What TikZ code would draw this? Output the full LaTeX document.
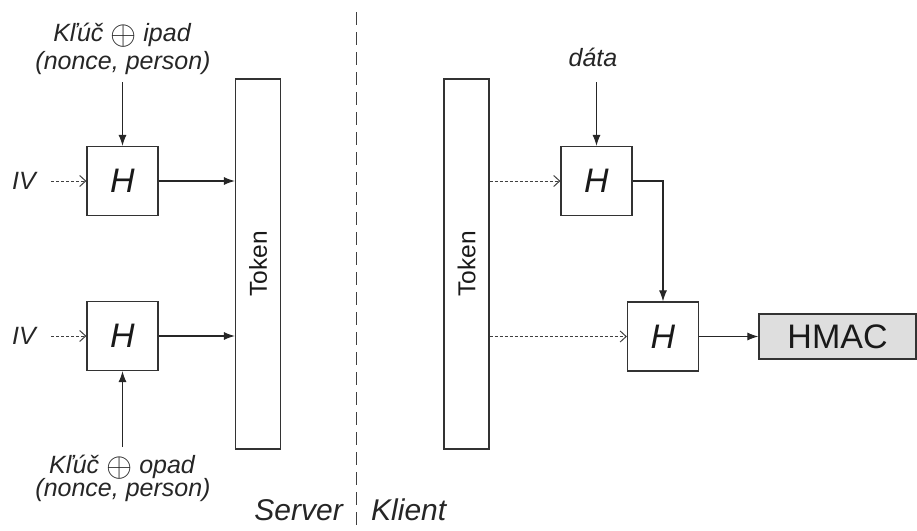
\documentclass[tikz,border=0pt]{standalone}
\usepackage{fontspec}
\setmainfont{Liberation Sans}
\usetikzlibrary{arrows.meta}
\newcommand{\xorop}{\raisebox{-0.14em}{\scalebox{1.35}{$\oplus$}}}
\begin{document}
\begin{tikzpicture}[x=1pt,y=-1pt,
  box/.style={draw=black!80, line width=1.2pt, fill=white, inner sep=0pt},
  hbox/.style={box, minimum width=71pt, minimum height=69pt,
    font=\fontsize{34}{36}\selectfont\itshape, text=black!90},
  tokbox/.style={box, minimum width=45pt, minimum height=370pt,
    font=\fontsize{24.5}{26}\selectfont, text=black!90},
  outbox/.style={box, fill=black!13, minimum width=157pt, minimum height=45pt,
    font=\fontsize{34}{36}\selectfont, text=black!90},
  lbl/.style={font=\fontsize{25}{28}\selectfont\itshape, text=black!85, inner sep=0pt},
  side/.style={font=\fontsize{30}{32}\selectfont\itshape, text=black!85, inner sep=0pt},
  flow/.style={draw=black!85, line width=1.1pt, -{Latex[length=11pt,width=8pt]}},
  feed/.style={draw=black!75, line width=1pt, dash pattern=on 3pt off 2pt,
    -{Straight Barb[length=6pt,width=11pt]}},
  divider/.style={draw=black!75, line width=1pt, dash pattern=on 13pt off 7pt},
]
\useasboundingbox (0,0) rectangle (917,530);

% server / client boundary
\coordinate (divtop) at (356,12);
\coordinate (divbot) at (356,530);
\draw[divider] (divtop) -- (divbot);
\node[side, anchor=east] (server) at (343,510) {Server};
\node[side, anchor=west] (klient) at (371,510) {Klient};

% server side
\node[tokbox] (tokL) at (258,264) {\rotatebox{90}{Token}};
\node[hbox] (h1) at (122.5,181) {H};
\node[hbox] (h2) at (122.5,336) {H};

\node[lbl] (iv1) at (24,181) {IV};
\node[lbl] (iv2) at (24,336) {IV};
\node[lbl] (k1a) at (122,35) {Kľúč \xorop{} ipad};
\node[lbl] (k1b) at (123,63) {(nonce, person)};
\node[lbl] (k2a) at (122,467) {Kľúč \xorop{} opad};
\node[lbl] (k2b) at (123,490) {(nonce, person)};

\coordinate (k1end) at (122.5,82);
\coordinate (k2end) at (122.5,447);
\draw[flow] (k1end) -- (h1.north);
\draw[flow] (k2end) -- (h2.south);
\draw[feed] ([xshift=15pt]iv1.east) -- (h1.west);
\draw[feed] ([xshift=15pt]iv2.east) -- (h2.west);
\draw[flow] (h1.east) -- (tokL.west |- h1.east);
\draw[flow] (h2.east) -- (tokL.west |- h2.east);

% client side
\node[tokbox] (tokR) at (466.5,264) {\rotatebox{90}{Token}};
\node[hbox] (h3) at (596.5,181) {H};
\node[hbox] (h4) at (663,336.5) {H};
\node[outbox] (hmac) at (837.5,336.5) {HMAC};

\node[lbl] (data) at (593,57) {dáta};
\coordinate (dend) at (596.5,82);
\draw[flow] (dend) -- (h3.north);
\draw[feed] (tokR.east |- h3.west) -- (h3.west);
\draw[feed] (tokR.east |- h4.west) -- (h4.west);
\draw[flow] (h3.east) -| (h4.north);
\draw[flow] (h4.east) -- (hmac.west);
\end{tikzpicture}
\end{document}
